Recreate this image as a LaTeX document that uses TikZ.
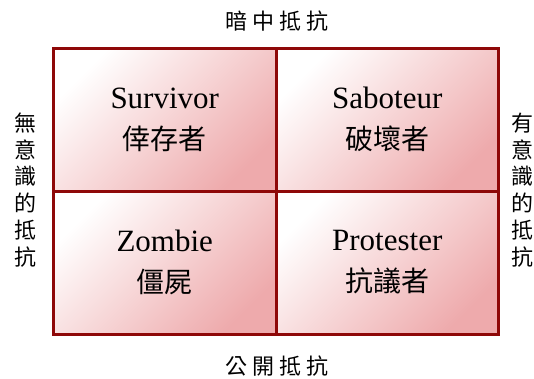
\documentclass[tikz,border=0pt]{standalone}
\usepackage{fontspec}
\usepackage{tikz}
\usetikzlibrary{positioning}
\setmainfont{Liberation Serif}
\newfontfamily\cjk{Noto Sans CJK TC}
\newfontfamily\cjkl[LetterSpace=24]{Noto Sans CJK TC}
\definecolor{edge}{HTML}{8E0808}
\definecolor{rose}{HTML}{EEAAAC}
\tikzset{
  quad/.style={draw=edge,line width=3pt,minimum width=222.5pt,minimum height=143pt,
    inner sep=0pt,outer sep=0pt,align=center,top color=white,bottom color=rose,
    shading angle=45,font=\fontsize{31}{41}\selectfont},
  side/.style={font=\fontsize{22}{26.8}\selectfont\cjk,align=center,inner sep=0pt},
  rim/.style={font=\fontsize{22}{26}\selectfont\cjkl,inner sep=0pt},
}
\begin{document}
\begin{tikzpicture}[x=1pt,y=-1pt]
  \useasboundingbox (0,0) rectangle (534,378);
  % the four quadrants
  \node[quad] (surv) at (164.75,119.5) {Survivor\\{\fontsize{28}{41}\selectfont\cjk 倖存者}};
  \node[quad,right=0pt of surv] (sabo) {Saboteur\\{\fontsize{28}{41}\selectfont\cjk 破壞者}};
  \node[quad,below=0pt of surv] (zomb) {Zombie\\{\fontsize{28}{41}\selectfont\cjk 僵屍}};
  \node[quad,right=0pt of zomb] (prot) {Protester\\{\fontsize{28}{41}\selectfont\cjk 抗議者}};
  % axis labels
  \node[rim] (covert) at (277,21) {暗中抵抗};
  \node[rim] (overt) at (277,366) {公開抵抗};
  \node[side] (unaware) at (25,190) {無\\意\\識\\的\\抵\\抗};
  \node[side] (aware) at (522,190) {有\\意\\識\\的\\抵\\抗};
\end{tikzpicture}
\end{document}
